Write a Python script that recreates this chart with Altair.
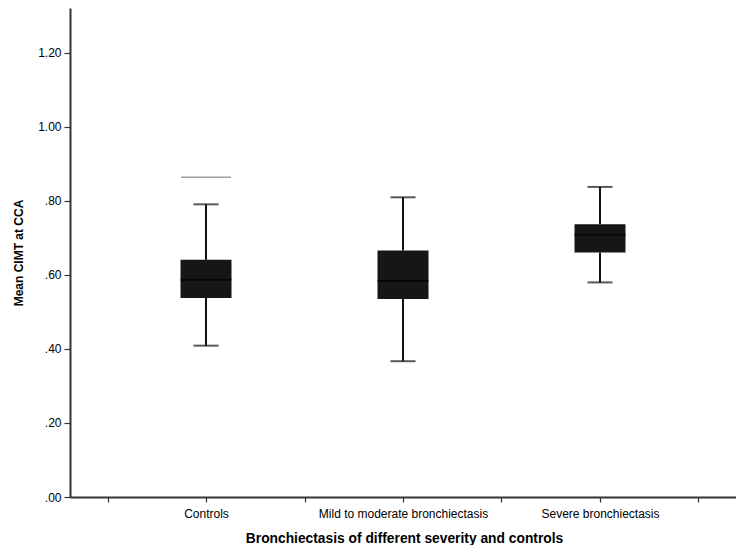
import altair as alt
import pandas as pd

categories = ["Controls", "Mild to moderate bronchiectasis", "Severe bronchiectasis"]
positions = [1, 2, 3]
whisker_low = [0.409, 0.367, 0.580]
q1 = [0.538, 0.535, 0.661]
median = [0.587, 0.584, 0.709]
q3 = [0.641, 0.666, 0.737]
whisker_high = [0.791, 0.810, 0.838]

outlier_pos = [1]
outlier_val = [0.864]

df = pd.DataFrame({
    "cat": categories, "pos": positions, "low": whisker_low, "q1": q1,
    "med": median, "q3": q3, "high": whisker_high,
})
df_out = pd.DataFrame({"pos": outlier_pos, "val": outlier_val})

x_ticks = [0.5, 1, 1.5, 2, 2.5, 3, 3.5]
y_ticks = [round(i * 0.1, 1) for i in range(14)]

label_expr = ("datum.value == 1 ? 'Controls' : datum.value == 2 ? 'Mild to moderate bronchiectasis' : "
              "datum.value == 3 ? 'Severe bronchiectasis' : ''")
y_label_expr = "round(datum.value*10) % 2 == 0 ? replace(format(datum.value, '.2f'), /^0/, '') : ''"

xscale = alt.Scale(domain=[0.335, 3.665], nice=False, zero=False)
yscale = alt.Scale(domain=[0, 1.3216], nice=False, zero=True)

xenc = alt.X("pos:Q", scale=xscale, axis=alt.Axis(
    values=x_ticks, labelExpr=label_expr, title="Bronchiectasis of different severity and controls",
    grid=False, tickSize=5, tickColor="#333", tickWidth=1.2, domainColor="#333", domainWidth=2,
    labelFont="Liberation Sans", labelFontSize=12, labelFontWeight="normal", labelColor="#000",
    labelPadding=6, labelFlush=False, labelOverlap=False, labelLimit=0,
    titleFont="Liberation Sans", titleFontSize=13.8, titleFontWeight="bold", titleColor="#000",
    titleBaseline="middle", titleY=41, titleX=334))

yaxis = alt.Axis(
    values=y_ticks, labelExpr=y_label_expr, title="Mean CIMT at CCA",
    grid=False, tickSize=6, tickColor="#333", tickWidth=1.2, domainColor="#333", domainWidth=2,
    labelFont="Liberation Sans", labelFontSize=12, labelFontWeight="normal", labelColor="#000",
    labelPadding=3, labelFlush=False, labelOverlap=False, labelLimit=0,
    titleFont="Liberation Sans", titleFontSize=12, titleFontWeight="bold", titleColor="#000",
    titleAngle=-90, titleAlign="center", titleBaseline="middle", titleX=-52, titleY=244.5)

base = alt.Chart(df)

lower_whisker = base.mark_rule(color="#111", strokeWidth=2).encode(
    x=xenc, y=alt.Y("low:Q", scale=yscale, axis=yaxis), y2="q1:Q")
upper_whisker = base.mark_rule(color="#111", strokeWidth=2).encode(
    x="pos:Q", y="q3:Q", y2="high:Q")
box = base.mark_bar(size=51, color="#161616").encode(
    x="pos:Q", y="q1:Q", y2="q3:Q")
med = base.mark_tick(orient="horizontal", size=51, thickness=2, color="#000").encode(
    x="pos:Q", y="med:Q")
cap_low = base.mark_tick(orient="horizontal", size=25, thickness=2, color="#111").encode(
    x="pos:Q", y="low:Q")
cap_high = base.mark_tick(orient="horizontal", size=25, thickness=2, color="#111").encode(
    x="pos:Q", y="high:Q")
outl = alt.Chart(df_out).mark_tick(orient="horizontal", size=50, thickness=1.5, color="#777").encode(
    x="pos:Q", y="val:Q")

chart = alt.layer(lower_whisker, upper_whisker, box, med, cap_low, cap_high, outl).properties(
    width=666, height=489,
    autosize=alt.AutoSizeParams(type="none"),
    padding={"left": 62, "top": 0, "right": 0, "bottom": 48},
    background="white",
).configure_view(stroke=None)

chart.save("out.html", embed_options={"renderer": "svg", "actions": False})
